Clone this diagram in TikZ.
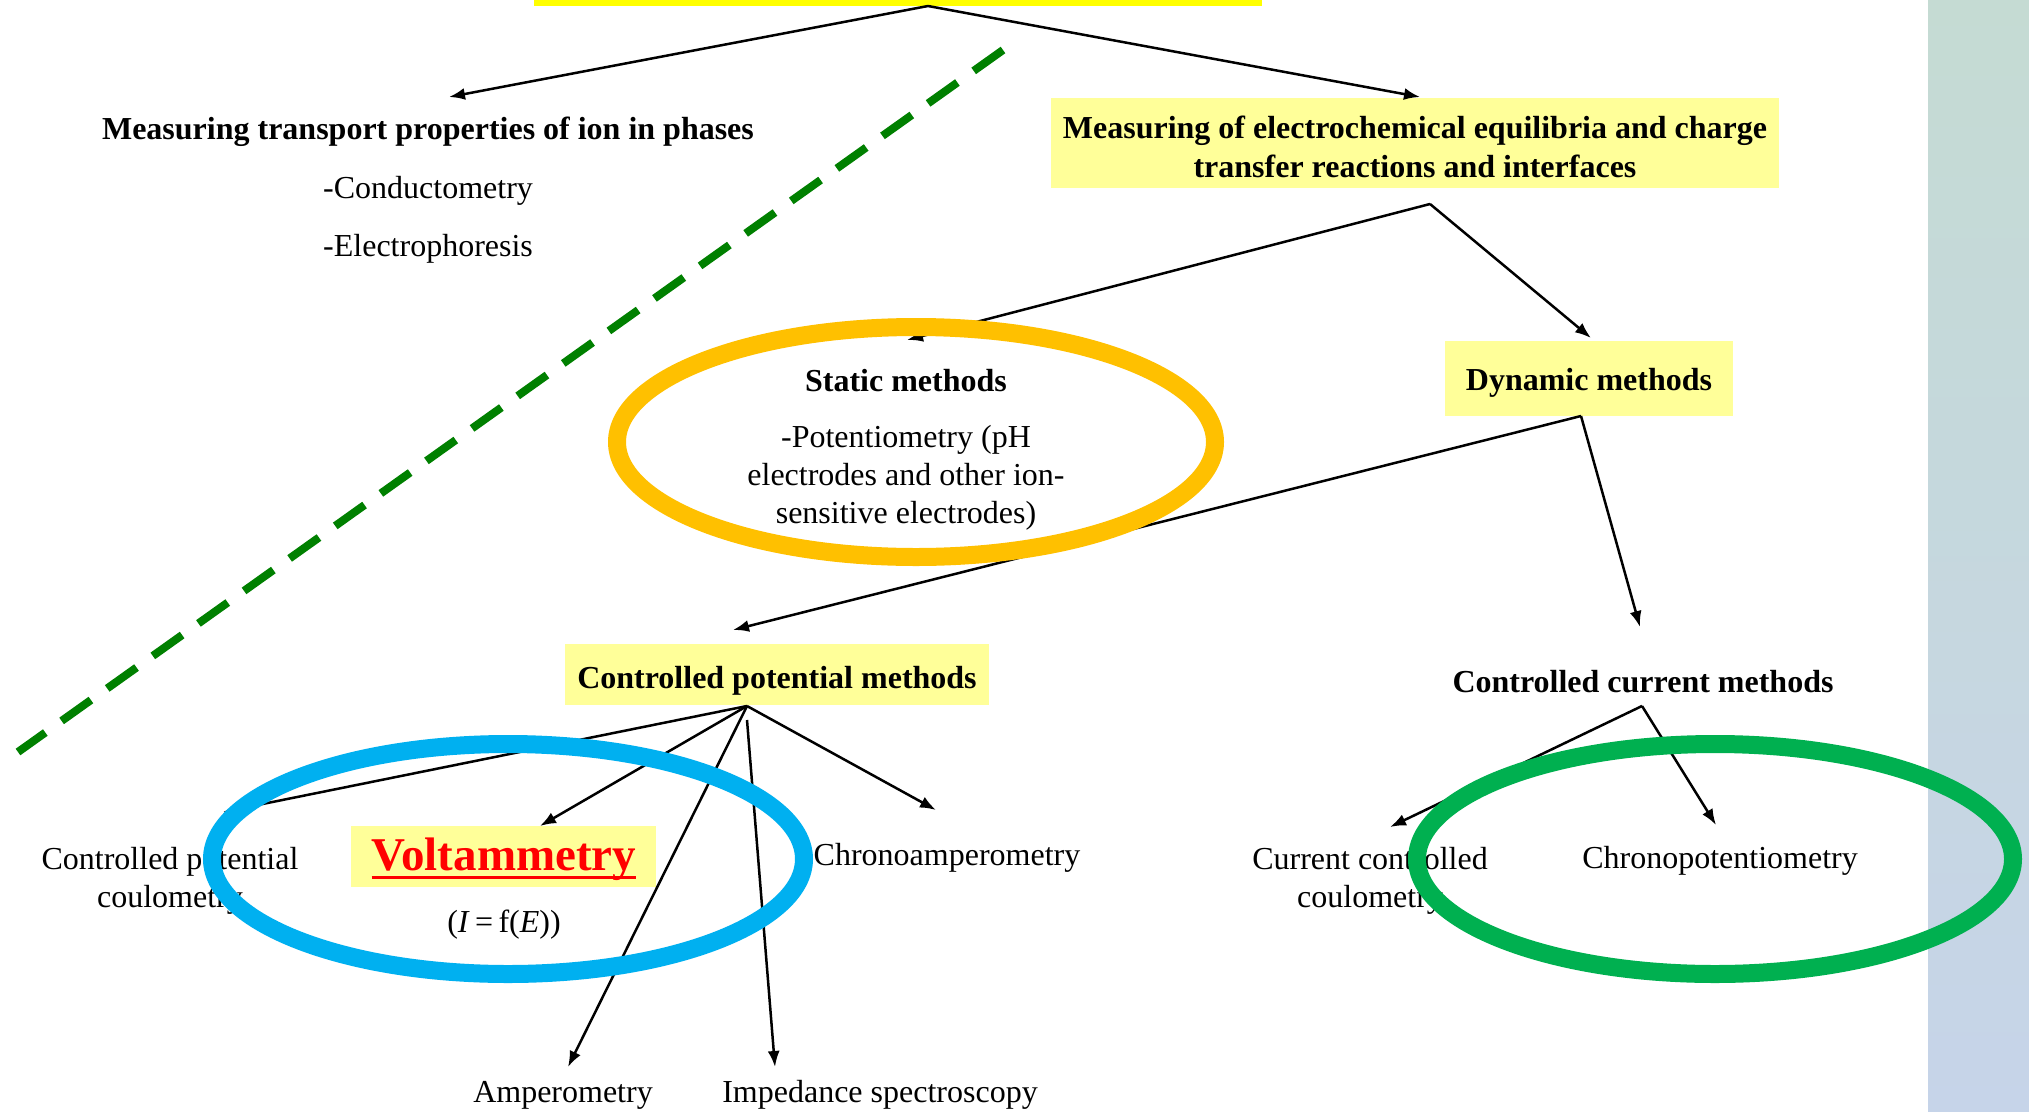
\documentclass[tikz,border=0pt]{standalone}
\usepackage{fontspec}
\setmainfont{Liberation Serif}
\usetikzlibrary{arrows.meta}
\definecolor{boxyellow}{HTML}{FFFF99}
\definecolor{topyellow}{HTML}{FFFF00}
\definecolor{ringorange}{HTML}{FFC000}
\definecolor{ringblue}{HTML}{00B0F0}
\definecolor{ringgreen}{HTML}{00B050}
\definecolor{dashgreen}{HTML}{008000}
\definecolor{paneltop}{HTML}{C5DBD3}
\definecolor{panelbot}{HTML}{C6D4E9}
\begin{document}
\begin{tikzpicture}[x=1pt,y=-1pt,
  txt/.style={inner sep=0pt, align=center, font=\fontsize{32}{38}\selectfont},
  btxt/.style={inner sep=0pt, align=center, font=\fontsize{32}{39}\selectfont\bfseries},
  ybox/.style={fill=boxyellow, inner sep=0pt},
  arr/.style={-{Latex[length=16pt,width=12pt]}, line width=2.5pt, black},
  ring/.style={line width=18pt},
]
\useasboundingbox (0,0) rectangle (2029,1111);
\fill[white] (0,0) rectangle (2029,1111);
\shade[top color=paneltop,bottom color=panelbot] (1928,0) rectangle (2029,1111);

% top box (cut off)
\node[fill=topyellow, minimum width=728pt, minimum height=46pt, inner sep=0pt] (topbox) at (898,-17) {};
\coordinate (topapex) at (928,6);

% left branch
\node[btxt] (trans) at (428,132) {Measuring transport properties of ion in phases};
\node[txt, anchor=west] (cond) at (323,191) {-Conductometry};
\node[txt, anchor=west] (elec) at (323,249) {-Electrophoresis};

% right branch
\node[ybox, minimum width=728pt, minimum height=90pt] (equil) at (1415,143) {};
\node[btxt] (equiltxt) at (1415,147) {Measuring of electrochemical equilibria and charge\\transfer reactions and interfaces};
\coordinate (equilapex) at (1430,204);

\node[btxt] (static) at (906,381) {Static methods};
\node[txt] (staticbody) at (906,478) {-Potentiometry (pH\\electrodes and other ion-\\sensitive electrodes)};

\node[ybox, minimum width=288pt, minimum height=75pt] (dyn) at (1589,378.5) {};
\node[btxt] (dyntxt) at (1589,383) {Dynamic methods};
\coordinate (dynapex) at (1581,416);

\node[ybox, minimum width=424pt, minimum height=61pt] (cpm) at (777,674.5) {};
\node[btxt] (cpmtxt) at (777,681) {Controlled potential methods};
\coordinate (cpmapex) at (747,706);
\coordinate (cpmapex2) at (747,720);

\node[btxt] (ccm) at (1643,682) {Controlled current methods};
\coordinate (ccmapex) at (1642,706);

% leaves
\node[txt] (cpc) at (170,881) {Controlled potential\\coulometry};
\node[ybox, minimum width=305pt, minimum height=61pt] (volt) at (503.5,856.5) {};
\node[inner sep=0pt, text=red, font=\fontsize{47}{50}\selectfont\bfseries] (volttxt) at (504,859) {Voltammetry};
\draw[red, line width=3pt] ([yshift=-7pt]volttxt.base west) -- ([yshift=-7pt]volttxt.base east);
\node[txt] (ife) at (504,925) {(\textit{I}\,=\,f(\textit{E}))};
\node[txt] (chronoa) at (947,858) {Chronoamperometry};
\node[txt] (amp) at (563,1095) {Amperometry};
\node[txt] (imp) at (880,1095) {Impedance spectroscopy};
\node[txt] (ccc) at (1370,881) {Current controlled\\coulometry};
\node[txt] (chronop) at (1720,861) {Chronopotentiometry};

% arrow tips
\coordinate (tTrans) at (449,97);
\coordinate (tEquil) at (1420,97);
\coordinate (tStatic) at (907,340);
\coordinate (tDyn) at (1591,338);
\coordinate (tCpm) at (733,630);
\coordinate (tCcm) at (1640,627);
\coordinate (tCpc) at (223,812);
\coordinate (tVolt) at (540,826);
\coordinate (tAmp) at (568,1067);
\coordinate (tImp) at (775,1067);
\coordinate (tChronoa) at (936,810);
\coordinate (tCcc) at (1390,827);
\coordinate (tChronop) at (1716,825);

\draw[arr] (topapex) -- (tTrans);
\draw[arr] (topapex) -- (tEquil);
\draw[arr] (equilapex) -- (tStatic);
\draw[arr] (equilapex) -- (tDyn);
\draw[arr] (dynapex) -- (tCpm);
\draw[arr] (dynapex) -- (tCcm);
\draw[arr] (cpmapex) -- (tCpc);
\draw[arr] (cpmapex) -- (tVolt);
\draw[arr] (cpmapex) -- (tAmp);
\draw[arr] (cpmapex2) -- (tImp);
\draw[arr] (cpmapex) -- (tChronoa);
\draw[arr] (ccmapex) -- (tCcc);
\draw[arr] (ccmapex) -- (tChronop);

% green dashed separator
\coordinate (dashA) at (1003,50);
\coordinate (dashB) at (18,752);
\draw[dashgreen, line width=8pt, dash pattern=on 36pt off 20pt] (dashA) -- (dashB);

% highlight rings
\draw[ring, ringorange] (916,442) ellipse [x radius=299pt, y radius=115pt];
\draw[ring, ringblue] (508,859) ellipse [x radius=296pt, y radius=115pt];
\draw[ring, ringgreen] (1715,859) ellipse [x radius=298pt, y radius=115pt];
\end{tikzpicture}
\end{document}
